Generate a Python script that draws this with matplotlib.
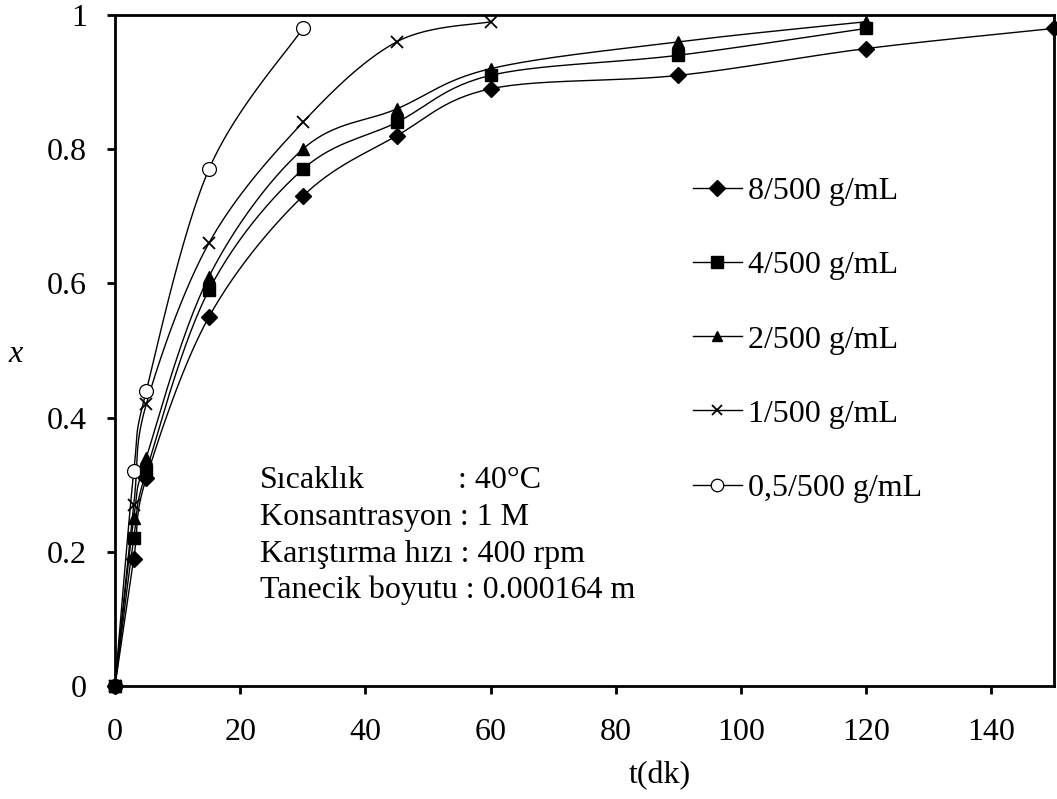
import numpy as np
import matplotlib
matplotlib.use("Agg")
import matplotlib.pyplot as plt
from matplotlib.lines import Line2D

plt.rcParams['font.family'] = ['Liberation Serif', 'DejaVu Serif']

# Time (min) and conversion for each solid/liquid ratio
t_8 = [0, 3, 5, 15, 30, 45, 60, 90, 120, 150]
x_8 = [0, 0.19, 0.31, 0.55, 0.73, 0.82, 0.89, 0.91, 0.95, 0.98]

t_4 = [0, 3, 5, 15, 30, 45, 60, 90, 120]
x_4 = [0, 0.22, 0.32, 0.59, 0.77, 0.84, 0.91, 0.94, 0.98]

t_2 = [0, 3, 5, 15, 30, 45, 60, 90, 120]
x_2 = [0, 0.25, 0.34, 0.61, 0.80, 0.86, 0.92, 0.96, 0.99]

t_1 = [0, 3, 5, 15, 30, 45, 60]
x_1 = [0, 0.27, 0.42, 0.66, 0.84, 0.96, 0.99]

t_05 = [0, 3, 5, 15, 30]
x_05 = [0, 0.32, 0.44, 0.77, 0.98]

labels = ["8/500 g/mL", "4/500 g/mL", "2/500 g/mL", "1/500 g/mL", "0,5/500 g/mL"]
x_ticks = [0, 20, 40, 60, 80, 100, 120, 140]
y_ticks = [0, 0.2, 0.4, 0.6, 0.8, 1]
y_ticklabels = ["0", "0.2", "0.4", "0.6", "0.8", "1"]

W, H = 1057, 799
fig = plt.figure(figsize=(W / 100, H / 100), dpi=100)
ax_l, ax_r, ax_t, ax_b = 115, 1054, 15, 686
ax = fig.add_axes([ax_l / W, 1 - ax_b / H, (ax_r - ax_l) / W, (ax_b - ax_t) / H])
ax.set_xlim(0, 150)
ax.set_ylim(0, 1)

sx = (ax_r - ax_l) / 150.0
sy = (ax_b - ax_t) / 1.0


def smooth_curve(tx, ty, n=30):
    """Bezier smoothing through the given points (computed in screen proportions)."""
    p = np.column_stack([np.asarray(tx, float) * sx, np.asarray(ty, float) * sy])
    out = [p[0]]
    m = len(p)
    for i in range(m - 1):
        p0 = p[i - 1] if i > 0 else p[i]
        p1 = p[i]
        p2 = p[i + 1]
        p3 = p[i + 2] if i + 2 < m else p[i + 1]
        c1 = p1 + (p2 - p0) / 6.0
        c2 = p2 - (p3 - p1) / 6.0
        s = np.linspace(0, 1, n)[1:, None]
        seg = ((1 - s) ** 3) * p1 + 3 * ((1 - s) ** 2) * s * c1 + 3 * (1 - s) * s ** 2 * c2 + s ** 3 * p2
        out.extend(seg)
    out = np.array(out)
    return out[:, 0] / sx, out[:, 1] / sy


series = [
    (t_8, x_8, dict(marker='D', markersize=8.5, markerfacecolor='black', markeredgecolor='black')),
    (t_4, x_4, dict(marker='s', markersize=9.0, markerfacecolor='black', markeredgecolor='black')),
    (t_2, x_2, dict(marker='^', markersize=8.5, markerfacecolor='black', markeredgecolor='black')),
    (t_1, x_1, dict(marker='x', markersize=8, markeredgewidth=1.3, markeredgecolor='black')),
    (t_05, x_05, dict(marker='o', markersize=10, markerfacecolor='white', markeredgecolor='black', markeredgewidth=0.9)),
]

handles = []
n_series = len(series)
for k, ((tt, xx, mk), lab) in enumerate(zip(series, labels)):
    cx, cy = smooth_curve(tt, xx)
    ax.plot(cx, cy, color='black', lw=1.0, zorder=2, clip_on=False)
    ax.plot(tt, xx, linestyle='none', zorder=3 + (n_series - k) * 0.1, clip_on=False, **mk)
    lmk = dict(mk)
    lmk['markersize'] = mk['markersize'] * 0.9
    handles.append(Line2D([0], [0], color='black', lw=1.0, label=lab, **lmk))

for side in ['left', 'right', 'top', 'bottom']:
    ax.spines[side].set_linewidth(2.0)
    ax.spines[side].set_color('black')

fs = 23
ax.set_xticks(x_ticks)
ax.set_yticks(y_ticks)
ax.set_yticklabels(y_ticklabels)
ax.tick_params(direction='out', length=6, width=2, labelsize=fs, colors='black')
ax.tick_params(axis='x', pad=17)
ax.tick_params(axis='y', pad=14)

ax.set_xlabel("t(dk)", fontsize=fs)
ax.xaxis.set_label_coords((660 - ax_l) / (ax_r - ax_l), (ax_b - 776) / (ax_b - ax_t))
ax.xaxis.label.set_va('center')
ax.set_ylabel("x", fontsize=fs, style='italic', rotation=0, va='center', ha='center')
ax.yaxis.set_label_coords((16 - ax_l) / (ax_r - ax_l), (ax_b - 354) / (ax_b - ax_t))

leg = ax.legend(handles=handles, loc='upper left', frameon=False, fontsize=fs,
                bbox_to_anchor=((693 - ax_l) / (ax_r - ax_l), (ax_b - 177) / (ax_b - ax_t)),
                handlelength=1.53, handletextpad=0.19, labelspacing=1.4, borderaxespad=0,
                borderpad=0)


def px(xp, yp):
    return (xp - ax_l) / (ax_r - ax_l), (ax_b - yp) / (ax_b - ax_t)


# Experimental conditions
ax.text(*px(260, 488), "Sıcaklık", fontsize=fs, transform=ax.transAxes, va='baseline')
ax.text(*px(458, 488), ": 40°C", fontsize=fs, transform=ax.transAxes, va='baseline')
ax.text(*px(260, 525), "Konsantrasyon : 1 M", fontsize=fs, transform=ax.transAxes, va='baseline')
ax.text(*px(260, 562), "Karıştırma hızı : 400 rpm", fontsize=fs, transform=ax.transAxes, va='baseline')
ax.text(*px(260, 598), "Tanecik boyutu : 0.000164 m", fontsize=fs, transform=ax.transAxes, va='baseline')

fig.savefig("out.png", dpi=100, facecolor='white')
